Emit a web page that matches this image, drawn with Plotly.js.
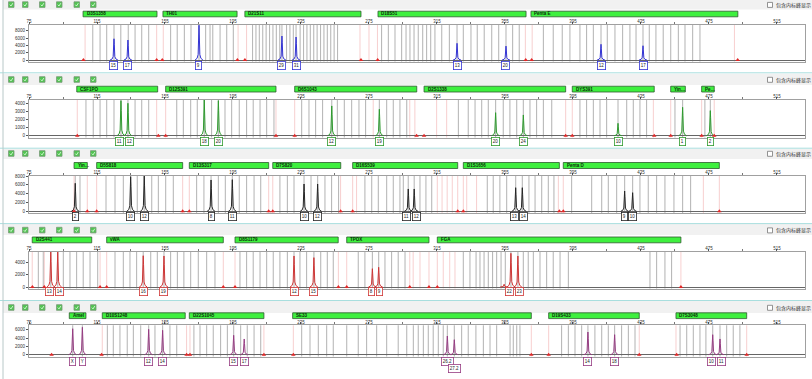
<!DOCTYPE html>
<html><head><meta charset="utf-8">
<script src="https://cdn.plot.ly/plotly-3.0.1.min.js"></script>
<style>html,body{margin:0;padding:0;background:#fff;overflow:hidden}#chart{width:812px;height:379px}</style>
</head><body><div id="chart"></div>
<script>
// ---------------- DATA ----------------
const xTicks = [75,115,155,195,235,275,315,355,395,435,475,515];
const xMinorTicks = [95,135,175,215,255,295,335,375,415,455,495];
const checkboxLabel = "包含内标峰显示";

// Panel 1 (blue)
const p1Markers = ["D3S1358","TH01","D21S11","D18S51","Penta E"];
const p1MarkerStart = [106.8,153.8,202,280.3,370.3];
const p1MarkerEnd = [150.3,197.4,270.3,367.4,492];
const p1PeakSize = [125,133.2,175,223.8,232.1,326.8,355.6,411.5,436.2];
const p1PeakRFU = [5800,5460,9500,6550,6280,4560,3800,4290,3900];
const p1Alleles = ["15","17","9","29","31","13","20","12","17"];
const p1YTicks = [0,2000,4000,6000,8000];
const p1Bins = [112.5,116.8,120.7,125,129,133.4,137.4,141.3,145.4,
  158.3,162.2,166.4,170.3,175,178.9,181.5,183.1,187.4,191.3,195.2,
  206.5,208.5,210.5,212.5,214.5,216.5,218.5,220.5,222.5,223.8,226.5,228.5,230.5,232.1,234.5,236.5,238.5,240.5,242.5,244.5,246.5,248.5,250.5,252.5,254.5,256.5,
  282.4,286.4,290.3,294.2,296.8,299.1,301.5,304,306.6,308.9,311.3,313.8,317.8,322.3,326.8,330.5,335,338.7,342.8,347.2,351.3,355.6,359.5,363.4,
  377.6,383.4,388.7,393.2,399.1,403,407,411.5,415.2,419.7,424.2,428.5,432.1,436.2,439.9,443.8,448.1,452.5,457,460.9,465.4,469.7];
const p1VirtualBins = [108,150.1,154,198,203,269.7,275,280,367,371,490];
const p1Flags = [107,150.1,153.4,197.6,202,270.3,280.1,367.2,370.7,491.9];

// Panel 2 (green)
const p2Markers = ["CSF1PO","D12S391","D6S1043","D2S1338","DYS391","Yin…","Pe…"];
const p2MarkerStart = [103.1,155.4,231.3,307.4,394.6,452.5,470.7];
const p2MarkerEnd = [150.7,220.3,303.1,390.7,442.8,461.1,478.1];
const p2PeakSize = [129.1,133.2,178.1,186.4,253.1,281.1,349.5,365.8,421.5,459.5,475.8];
const p2PeakRFU = [4320,4000,4400,4320,3670,3260,2840,2560,1530,3500,3090];
const p2Alleles = ["11","12","18","20","12","19","20","24","10","1","2"];
const p2YTicks = [0,1000,2000,3000,4000];
const p2Bins = [108.5,112.8,116.8,120.7,125,129.1,133.2,137.4,141.3,145.4,
  161.9,165.8,170.1,174,178.1,182.4,186.4,190.3,194.2,198.7,203,206.9,210.9,214.8,219.1,
  235.4,239.7,243.6,247.7,253.1,256.4,260.5,264.8,269.1,273,281.1,285.4,289.3,293.2,297.2,
  327.6,333.4,337.4,341.3,345.2,349.5,354,357.9,361.9,365.8,369.7,373.6,377.6,382.5,
  399.1,403,407,410.9,414.8,421.5,426.6,430.5,434.4,438.3,
  455,459.5,472.6,475.8];
const p2VirtualBins = [103.4,150.1,155.4,220.3,231.3,277.5,299,302,314.8,320.7,390.7,394.6,442.3,452.5,470.7,478.1];
const p2Flags = [103.4,151.1,155.4,220.3,231.3,303,307.4,390.7,394.6,442.8,452.5,470.7,478.1];

// Panel 3 (black)
const p3Markers = ["Yin…","D5S818","D13S317","D7S820","D16S539","D1S1656","Penta D"];
const p3MarkerStart = [101.5,114.8,169.3,218.4,265.4,330.5,389.3];
const p3MarkerEnd = [109.3,165.4,216,258.4,327.2,387,481.1];
const p3PeakSize = [102.2,134.8,142.8,182.1,194.6,236.8,244.8,298.1,301.6,361.3,365.2,425.4,430.1];
const p3PeakRFU = [6350,7850,8000,7100,7170,6190,6190,5060,5060,5350,5350,4600,4220];
const p3Alleles = ["2","10","12","8","11","10","12","11","12","13","14","9","10"];
const p3YTicks = [0,2000,4000,6000,8000];
const p3Bins = [102.2,105,
  120.3,125.6,130.5,134.8,138.7,142.8,147.2,151.1,155.4,159.9,
  173.6,177.9,182.1,186.4,190.5,194.6,198.7,203,207.4,211.3,
  222.6,227,230.9,236.8,240.9,244.8,249.1,253,257.1,
  272.6,276.6,280.5,285.4,289.3,293.2,295.2,298.1,301.6,305,308.5,311.9,
  344.6,348.1,352,356,361.3,365.2,369.1,372.7,376.6,380.5,383.8,
  394.2,406,411.9,415.8,420.7,425.4,430.1,434.4,439.3,444.2,449.1,454.4,459.5,464.2];
const p3VirtualBins = [101.5,109.3,114.8,165.4,169.3,216,218.4,258.3,265.4,267.7,315.2,318,321,324,327.2,330.5,332.5,338.3,386.4,389.3,471.7,481.1];
const p3Flags = [101.5,109.3,114.8,165.4,169.3,216,218.4,258.3,265.4,327.2,330.5,387,389.3,481.1];

// Panel 4 (red)
const p4Markers = ["D2S441","vWA","D8S1179","TPOX","FGA"];
const p4MarkerStart = [76.9,120.7,196.2,261.9,315.2];
const p4MarkerEnd = [111.9,189.3,256.9,310.3,458.5];
const p4PeakSize = [87.8,91.9,142.2,154.4,230.9,242.6,277,280.7,354.5,358.5,362.6];
const p4PeakRFU = [5700,5660,5060,5020,5020,4750,2960,3190,450,5450,5020];
const p4Alleles = ["13","14","16","19","12","15","8","9","","22","23"];
const p4YTicks = [0,2000,4000];
const p4Bins = [80.5,83.4,87.8,91.9,95.2,99.1,103,106.9,110.9,115.4,
  125.6,130.5,134.4,138.3,142.2,146.6,150.5,154.4,158.3,162.3,166.1,170.1,174.6,179.5,184.4,
  199.1,203,206.9,210.9,214.8,218.7,222.6,227,230.9,234.4,238.3,242.6,246.6,250.5,254,
  268.7,272.6,277,280.7,284.4,288.3,292.2,296.2,
  330.5,334.4,338,340.3,342.7,345.2,347.7,350.1,352.7,355.2,358.5,362.6,365.8,368.7,371.7,375.6,379.5,383.4,387.4,392.3,
  440.3,444.2,449.1,453];
const p4VirtualBins = [76.9,84,116.8,120.7,189.3,196.2,257,261.9,299,301,305,310.3,315.2,318.7,322.5,325.6,458.5];
const p4Flags = [77,84,116.8,120.7,189.3,196.2,257,261.9,299,310.3,315.2,458.5];

// Panel 5 (purple)
const p5Markers = ["Amel","D10S1248","D22S1045","SE33","D19S433","D7S3048"];
const p5MarkerStart = [98.7,118.1,169.3,230.1,380.7,455.6];
const p5MarkerEnd = [108.5,166.9,213.2,370.5,434,497.2];
const p5PeakSize = [100.7,106.4,145.4,153.6,195.4,201.6,321.1,325.2,403.8,419.5,477.2,481.5];
const p5PeakRFU = [6230,6570,6090,5850,4650,3770,4480,3600,5440,4800,4800,3770];
const p5Alleles = ["X","Y","12","14","15","17","26.2","27.2","14","18","10","11"];
const p5YTicks = [0,2000,4000,6000];
const p5Bins = [100.7,106.4,
  121.1,124.6,128.5,132.8,136.4,140.7,145.4,149.1,153.6,157.9,161.9,
  172,175.6,179.5,183.4,187.7,191.7,195.4,199.5,203.4,207.4,211.3,
  235.4,240.3,245.2,250.1,254,261.9,268.7,273.6,279.5,285.4,292.2,297.2,301.1,304,307,309.9,312.8,315.8,318.7,321.1,325.2,329.5,333.4,337.9,342.3,346.2,350.1,358,359.9,361.9,363.8,
  388.3,392.3,396.2,400.1,403.8,407.9,411.9,415.8,419.5,423.6,427.6,431.5,
  458,461.9,465.8,469.7,473.2,477.2,481.5,485.4,489.3,493.2];
const p5VirtualBins = [118.1,167.7,169.7,213.2,230.5,370.5,380.7,434,455.6,497.2];
const p5Flags = [88.3,117.7,167.7,169.7,213.2,230.5,370.5,380.7,434,456,497.2];

// ---------------- LAYOUT / STYLE ----------------
const W = 812, H = 379;
const dyeColors = ['#3434d4','#2f9b2f','#262626','#cf3636','#963c82'];
const panels = [
 {m:p1Markers,ms:p1MarkerStart,me:p1MarkerEnd,s:p1PeakSize,h:p1PeakRFU,a:p1Alleles,b:p1Bins,v:p1VirtualBins,f:p1Flags,yt:p1YTicks},
 {m:p2Markers,ms:p2MarkerStart,me:p2MarkerEnd,s:p2PeakSize,h:p2PeakRFU,a:p2Alleles,b:p2Bins,v:p2VirtualBins,f:p2Flags,yt:p2YTicks},
 {m:p3Markers,ms:p3MarkerStart,me:p3MarkerEnd,s:p3PeakSize,h:p3PeakRFU,a:p3Alleles,b:p3Bins,v:p3VirtualBins,f:p3Flags,yt:p3YTicks},
 {m:p4Markers,ms:p4MarkerStart,me:p4MarkerEnd,s:p4PeakSize,h:p4PeakRFU,a:p4Alleles,b:p4Bins,v:p4VirtualBins,f:p4Flags,yt:p4YTicks},
 {m:p5Markers,ms:p5MarkerStart,me:p5MarkerEnd,s:p5PeakSize,h:p5PeakRFU,a:p5Alleles,b:p5Bins,v:p5VirtualBins,f:p5Flags,yt:p5YTicks}
];
// pixel geometry of each panel
const geom = [
 {top:25,  bot:61.5, yr:[-400,9560], band:[0,9.5],    cb:1.8,   bar:[11.2,16.8],  lab:65.5, sep:72.8},
 {top:100, bot:137.5,yr:[-220,4400], band:[73.8,85],  cb:76.7,  bar:[86.2,92],    lab:141.2, sep:148.2},
 {top:175.7,bot:213, yr:[-385,8070], band:[148.8,159],cb:150.7, bar:[162.5,168.5],lab:216.3, sep:223.6},
 {top:251.7,bot:288.5,yr:[-243,5710],band:[224,235],  cb:227.3, bar:[237,242.8],  lab:291.6, sep:300.5},
 {top:325.3,bot:356.5,yr:[-430,7050],band:[301,313],  cb:304.7, bar:[312.8,318.6],lab:361.2, sep:null}
];
const pxToPaper = p => 1 - p / H;
const xDomain = [29 / W, 805 / W];
const xRange = [75, 531.5];
const pxPerBp = (805 - 29) / (xRange[1] - xRange[0]);

const spike = [[-2.3,0],[-1.1,0.05],[-0.5,0.16],[-0.18,0.72],[0,1],[0.18,0.72],[0.5,0.16],[1.1,0.05],[2.3,0]];

const layout = {
  width: W, height: H, margin: {l:0,r:0,t:0,b:0}, autosize: false,
  paper_bgcolor: '#ffffff', plot_bgcolor: '#ffffff', showlegend: false,
  font: {family: 'Liberation Sans, Arial, sans-serif', size: 5, color: '#333'},
  shapes: [], annotations: []
};
const traces = [];

panels.forEach((P, i) => {
  const g = geom[i];
  const n = i === 0 ? '' : String(i + 1);
  const xa = 'x' + n, ya = 'y' + n;
  const col = dyeColors[i];
  layout['xaxis' + n] = {
    domain: xDomain, range: xRange, anchor: ya, side: 'top',
    tickmode: 'array', tickvals: xTicks, ticktext: xTicks.map(String),
    ticks: 'outside', ticklen: 2, tickwidth: 1, tickcolor: '#555', ticklabelstandoff: -3,
    minor: {tickmode: 'array', tickvals: xMinorTicks, ticks: 'outside', ticklen: 2, tickcolor: '#777'},
    showline: true, linecolor: '#a0a0a0', linewidth: 1, mirror: true,
    showgrid: false, zeroline: false, automargin: false, fixedrange: true,
    tickfont: {size: 4.5, color: '#333'}
  };
  layout['yaxis' + n] = {
    domain: [pxToPaper(g.bot), pxToPaper(g.top)], range: g.yr, anchor: xa,
    tickmode: 'array', tickvals: P.yt, ticktext: P.yt.map(String),
    ticks: 'outside', ticklen: 2, tickcolor: '#555',
    showline: true, linecolor: '#a0a0a0', linewidth: 1, mirror: true,
    showgrid: false, zeroline: true, zerolinecolor: '#666', zerolinewidth: 1,
    automargin: false, fixedrange: true, tickfont: {size: 4.5, color: '#333'}
  };

  // header band, separator
  layout.shapes.push({type:'rect', xref:'paper', yref:'paper', x0:3/W, x1:1, y0:pxToPaper(g.band[1]), y1:pxToPaper(g.band[0]),
    fillcolor:'#f1f1f1', line:{width:0}, layer:'below'});
  if (g.sep !== null) {
    layout.shapes.push({type:'line', xref:'paper', yref:'paper', x0:0, x1:1, y0:pxToPaper(g.sep), y1:pxToPaper(g.sep),
      line:{color:'#a8dede', width:1}});
  }
  // left border of panel
  const pTop = i === 0 ? 0 : geom[i-1].sep;
  const pBot = g.sep === null ? H : g.sep;
  layout.shapes.push({type:'line', xref:'paper', yref:'paper', x0:3/W, x1:3/W, y0:pxToPaper(pBot), y1:pxToPaper(pTop),
    line:{color:'#b8c8c8', width:1}});
  // dye checkboxes
  [8.5,22.5,39.5,56.5,74,90.5].forEach(cx => {
    layout.shapes.push({type:'rect', xref:'paper', yref:'paper', x0:cx/W, x1:(cx+5.5)/W,
      y0:pxToPaper(g.cb+5.6), y1:pxToPaper(g.cb), fillcolor:'#52c452', line:{color:'#7a9a7a', width:0.8}});
    layout.shapes.push({type:'path', xref:'paper', yref:'paper',
      path:`M ${(cx+1.3)/W} ${pxToPaper(g.cb+2.9)} L ${(cx+2.5)/W} ${pxToPaper(g.cb+4.2)} L ${(cx+4.3)/W} ${pxToPaper(g.cb+1.4)}`,
      line:{color:'#e8ffe8', width:0.8}});
  });
  // right checkbox + text
  const cy = g.cb + 0.6;
  layout.shapes.push({type:'rect', xref:'paper', yref:'paper', x0:767.5/W, x1:772.5/W, y0:pxToPaper(cy+5), y1:pxToPaper(cy),
    fillcolor:'#ffffff', line:{color:'#777', width:0.8}});
  layout.annotations.push({xref:'paper', yref:'paper', x:774/W, y:pxToPaper(cy+2.5), xanchor:'left', yanchor:'middle',
    text:checkboxLabel, showarrow:false, font:{family:'Noto Sans CJK SC', size:5, color:'#333'}});

  // marker bars
  P.m.forEach((name, k) => {
    layout.shapes.push({type:'rect', xref:xa, yref:'paper', x0:P.ms[k], x1:P.me[k],
      y0:pxToPaper(g.bar[1]), y1:pxToPaper(g.bar[0]), fillcolor:'#3ef03e', line:{color:'#2d5a2d', width:0.8}});
    layout.annotations.push({xref:xa, yref:'paper', x:P.ms[k], y:pxToPaper((g.bar[0]+g.bar[1])/2),
      xanchor:'left', yanchor:'middle', xshift:1.5, text:'<b>'+name+'</b>', showarrow:false,
      font:{size:4.5, color:'#0a2a0a'}});
  });

  // bins (grey) and virtual bins (pink)
  P.b.forEach(bp => layout.shapes.push({type:'line', xref:xa, yref:ya+' domain', x0:bp, x1:bp, y0:0, y1:1,
    line:{color:'#b9b9b9', width:1.1}, layer:'below'}));
  P.v.forEach(bp => layout.shapes.push({type:'line', xref:xa, yref:ya+' domain', x0:bp, x1:bp, y0:0, y1:1,
    line:{color:'#f6caca', width:0.9}, layer:'below'}));

  // peaks
  const px = [], py = [];
  P.s.forEach((bp, k) => {
    spike.forEach(([dx, fy]) => { px.push(bp + dx); py.push(P.h[k] * fy); });
    px.push(null); py.push(null);
  });
  traces.push({type:'scatter', mode:'lines', x:px, y:py, xaxis:xa, yaxis:ya,
    line:{color:col, width:1}, hoverinfo:'skip'});
  // flags on baseline
  traces.push({type:'scatter', mode:'markers', x:P.f, y:P.f.map(() => 0), xaxis:xa, yaxis:ya,
    marker:{symbol:'triangle-up', size:4, color:'#e02828'}, hoverinfo:'skip', cliponaxis:false});

  // allele labels
  let prev = null;
  P.s.forEach((bp, k) => {
    const lab = P.a[k];
    if (!lab) return;
    const w = lab.length * 2.6 + 4;
    let row = 0, shift = 0;
    if (prev) {
      const gap = (bp - prev.bp) * pxPerBp;
      const need = (prev.w + w) / 2;
      if (gap < need) {
        const ov = need - gap;
        if (ov > 5) row = 1;
        else { shift = ov / 2 + 0.3; prev.ann.xshift = -(ov / 2 + 0.3); }
      }
    }
    const ann = {xref:xa, yref:'paper', x:bp, y:pxToPaper(g.lab + row * 7.5), xanchor:'center', yanchor:'middle',
      xshift:shift, text:lab, showarrow:false, font:{size:4.5, color:'#222'},
      bordercolor:col, borderwidth:0.8, borderpad:1, bgcolor:'#ffffff'};
    layout.annotations.push(ann);
    prev = {bp, w, ann};
  });
});

Plotly.newPlot('chart', traces, layout, {staticPlot:true, displayModeBar:false});
</script>
</body></html>
